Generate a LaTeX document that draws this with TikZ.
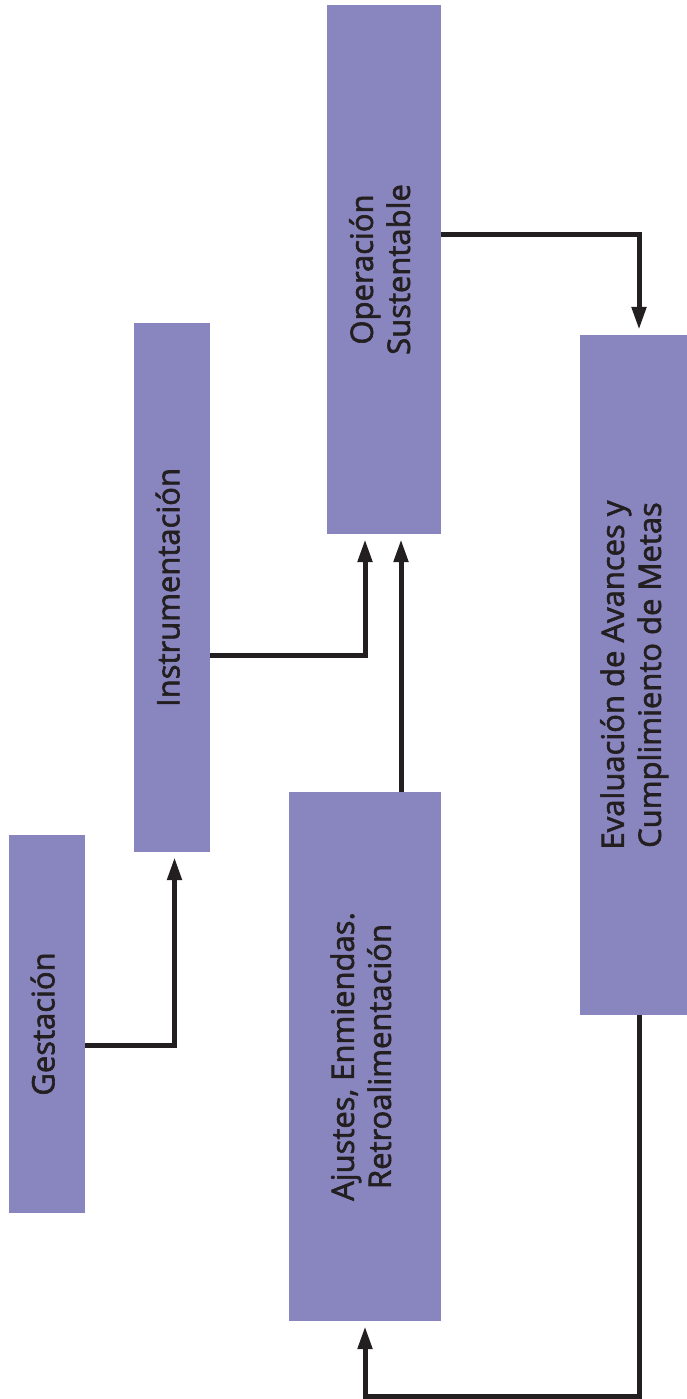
\documentclass[tikz,border=0pt]{standalone}
\usepackage{fontspec}
\setmainfont{Open Sans}[FakeBold=2]
\usetikzlibrary{arrows.meta,calc}
\definecolor{boxfill}{RGB}{137,133,191}
\definecolor{ink}{RGB}{35,31,32}
\tikzset{
  procbox/.style={fill=boxfill, draw=none, inner sep=0pt, text=ink,
    font=\fontsize{31}{37}\selectfont},
  conn/.style={draw=ink, line width=5pt,
    -{Triangle[length=23pt,width=14pt]}, shorten >=5pt}
}
\newcommand{\vtext}[1]{\rotatebox{90}{\begin{tabular}{@{}c@{}}#1\end{tabular}}}
\begin{document}
\begin{tikzpicture}[x=1pt,y=-1pt]
\useasboundingbox (0,0) rectangle (687,1399);
\node[procbox, minimum width=76pt, minimum height=378pt] (g) at (47,1024) {\vtext{Gestación}};
\node[procbox, minimum width=76pt, minimum height=529pt] (i) at (172,587.5) {\vtext{Instrumentación}};
\node[procbox, minimum width=114pt, minimum height=529pt] (o) at (384,269.5) {\vtext{Operación\\Sustentable}};
\node[procbox, minimum width=152pt, minimum height=529pt] (a) at (365,1056.5) {\vtext{Ajustes, Enmiendas.\\Retroalimentación}};
\node[procbox, minimum width=110pt, minimum height=680pt] (e) at (635,675) {\vtext{Evaluación de Avances y\\Cumplimiento de Metas}};
\coordinate (c1) at ($(g.east)+(0,21)$);
\coordinate (c2) at ($(i.east)+(0,67.5)$);
\coordinate (c3) at ($(a.north)+(36,0)$);
\coordinate (c4) at ($(o.east)+(0,-35.5)$);
\coordinate (c5) at (639,1015);
\coordinate (c6) at (639,1396);
\draw[conn] (c1) -| ($(i.south)+(2.5,0)$);
\draw[conn] (c2) -| ($(o.south)+(-19,0)$);
\draw[conn] (c3) -- (c3 |- o.south);
\draw[conn] (c4) -| (c5 |- e.north);
\draw[conn] (c5) -- (c6) -| (a.south);
\end{tikzpicture}
\end{document}
